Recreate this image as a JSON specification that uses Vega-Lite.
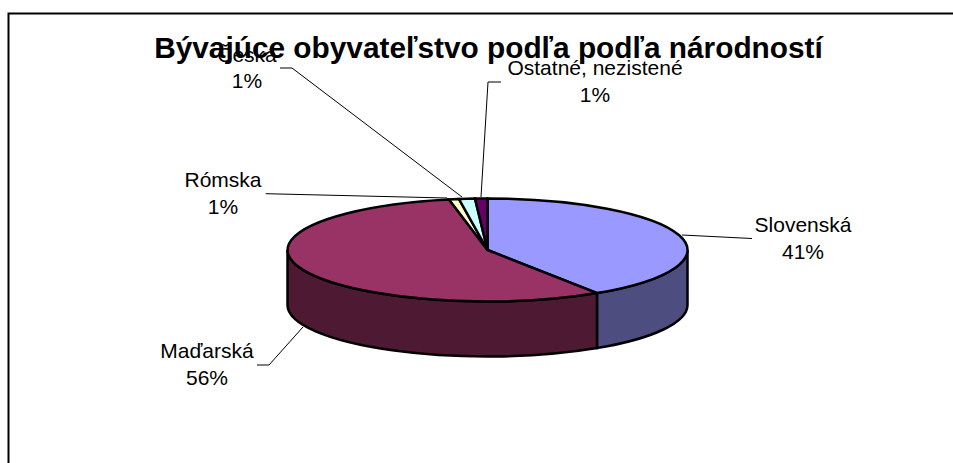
{
"$schema":"https://vega.github.io/schema/vega-lite/v6.json",
"width":953,"height":463,"padding":0,"autosize":{"type":"none"},
"background":"white",
"title":{"text":"Bývajúce obyvateľstvo podľa podľa národností","font":"Liberation Sans","fontSize":29.8,"fontWeight":"bold","color":"#000000","anchor":"middle","frame":"group","offset":0,"dx":12,"dy":88,"baseline":"alphabetic"},
"config":{"view":{"stroke":null},"text":{"font":"Liberation Sans","fontSize":21,"color":"#000000","lineHeight":26.5,"align":"center","baseline":"alphabetic","lineBreak":"\n"}},
"data":{"values":[
{"name":"Slovenská","value":41},
{"name":"Maďarská","value":56},
{"name":"Rómska","value":1},
{"name":"Česká","value":1},
{"name":"Ostatné, nezistené","value":1}
]},
"resolve":{"scale":{"shape":"independent","fill":"independent"}},
"layer":[
{"data":{"values":[{"part":"chart area border"}]},
 "mark":{"type":"point","shape":"M-2.34 1.3L-2.34 -1.09L2.5 -1.09","size":160000,"filled":false,"stroke":"#000000","strokeWidth":2,"opacity":1}},
{"transform":[{"filter":"datum.name === 'Slovenská' || datum.name === 'Maďarská'"}],
 "mark":{"type":"point","size":160000,"filled":true,"stroke":"#000000","strokeWidth":2.5,"opacity":1},
 "encoding":{
  "shape":{"field":"name","type":"nominal","legend":null,"scale":{"domain":["Slovenská","Maďarská"],"range":[
   "M1.055 .0925A1 .2575 0 0 1 .6025 .308L.6025 .583A1 .2575 0 0 0 1.055 .3675Z",
   "M.6025 .308A1 .2575 0 0 1 -.945 .0925L-.945 .3675A1 .2575 0 0 0 .6025 .583Z"]}},
  "fill":{"field":"name","type":"nominal","legend":null,"scale":{"domain":["Slovenská","Maďarská"],"range":["#4D4D80","#4D1933"]}}
 }},
{"mark":{"type":"point","size":160000,"filled":true,"stroke":"#000000","strokeWidth":2.5,"opacity":1},
 "encoding":{
  "shape":{"field":"name","type":"nominal","legend":null,"scale":{"domain":["Slovenská","Maďarská","Rómska","Česká","Ostatné, nezistené"],"range":[
   "M.055 .0925L.055 -.165A1 .2575 0 0 1 .6025 .308Z",
   "M.055 .0925L.6025 .308A1 .2575 0 1 1 -.1375 -.1602Z",
   "M.055 .0925L-.1375 -.1602A1 .2575 0 0 1 -.0875 -.1624Z",
   "M.055 .0925L-.0875 -.1624A1 .2575 0 0 1 -.0075 -.1645Z",
   "M.055 .0925L-.0075 -.1645A1 .2575 0 0 1 .055 -.165Z"]}},
  "fill":{"field":"name","type":"nominal","legend":null,"scale":{"domain":["Slovenská","Maďarská","Rómska","Česká","Ostatné, nezistené"],"range":["#9999FF","#993366","#FFFFCC","#CCFFFF","#660066"]}}
 }},
{"mark":{"type":"point","size":160000,"filled":false,"stroke":"#000000","strokeWidth":1,"opacity":1},
 "encoding":{
  "shape":{"field":"name","type":"nominal","legend":null,"scale":{"domain":["Slovenská","Maďarská","Rómska","Česká","Ostatné, nezistené"],"range":[
   "M1.0275 .0175L1.3775 .035",
   "M-1.0975 .6675L-1.0375 .6675L-.8675 .4775",
   "M-1.054 -.189L-.1475 -.1675",
   "M-.9825 -.8175L-.9225 -.8175L-.0725 -.1725",
   "M.1225 -.7475L.0575 -.7475L.0225 -.1725"]}}
 }},
{"transform":[{"calculate":"datum.name + '\\n' + datum.value + '%'","as":"label"},{"filter":"datum.name === 'Slovenská'"}],"mark":{"type":"text","dx":326.5,"dy":0.5},"encoding":{"text":{"field":"label","type":"nominal"}}},
{"transform":[{"calculate":"datum.name + '\\n' + datum.value + '%'","as":"label"},{"filter":"datum.name === 'Maďarská'"}],"mark":{"type":"text","dx":-269.5,"dy":126.5},"encoding":{"text":{"field":"label","type":"nominal"}}},
{"transform":[{"calculate":"datum.name + '\\n' + datum.value + '%'","as":"label"},{"filter":"datum.name === 'Rómska'"}],"mark":{"type":"text","dx":-253.5,"dy":-44.5},"encoding":{"text":{"field":"label","type":"nominal"}}},
{"transform":[{"calculate":"datum.name + '\\n' + datum.value + '%'","as":"label"},{"filter":"datum.name === 'Česká'"}],"mark":{"type":"text","dx":-229.5,"dy":-170},"encoding":{"text":{"field":"label","type":"nominal"}}},
{"transform":[{"calculate":"datum.name + '\\n' + datum.value + '%'","as":"label"},{"filter":"datum.name === 'Ostatné, nezistené'"}],"mark":{"type":"text","dx":118.5,"dy":-156.5},"encoding":{"text":{"field":"label","type":"nominal"}}}
]
}
